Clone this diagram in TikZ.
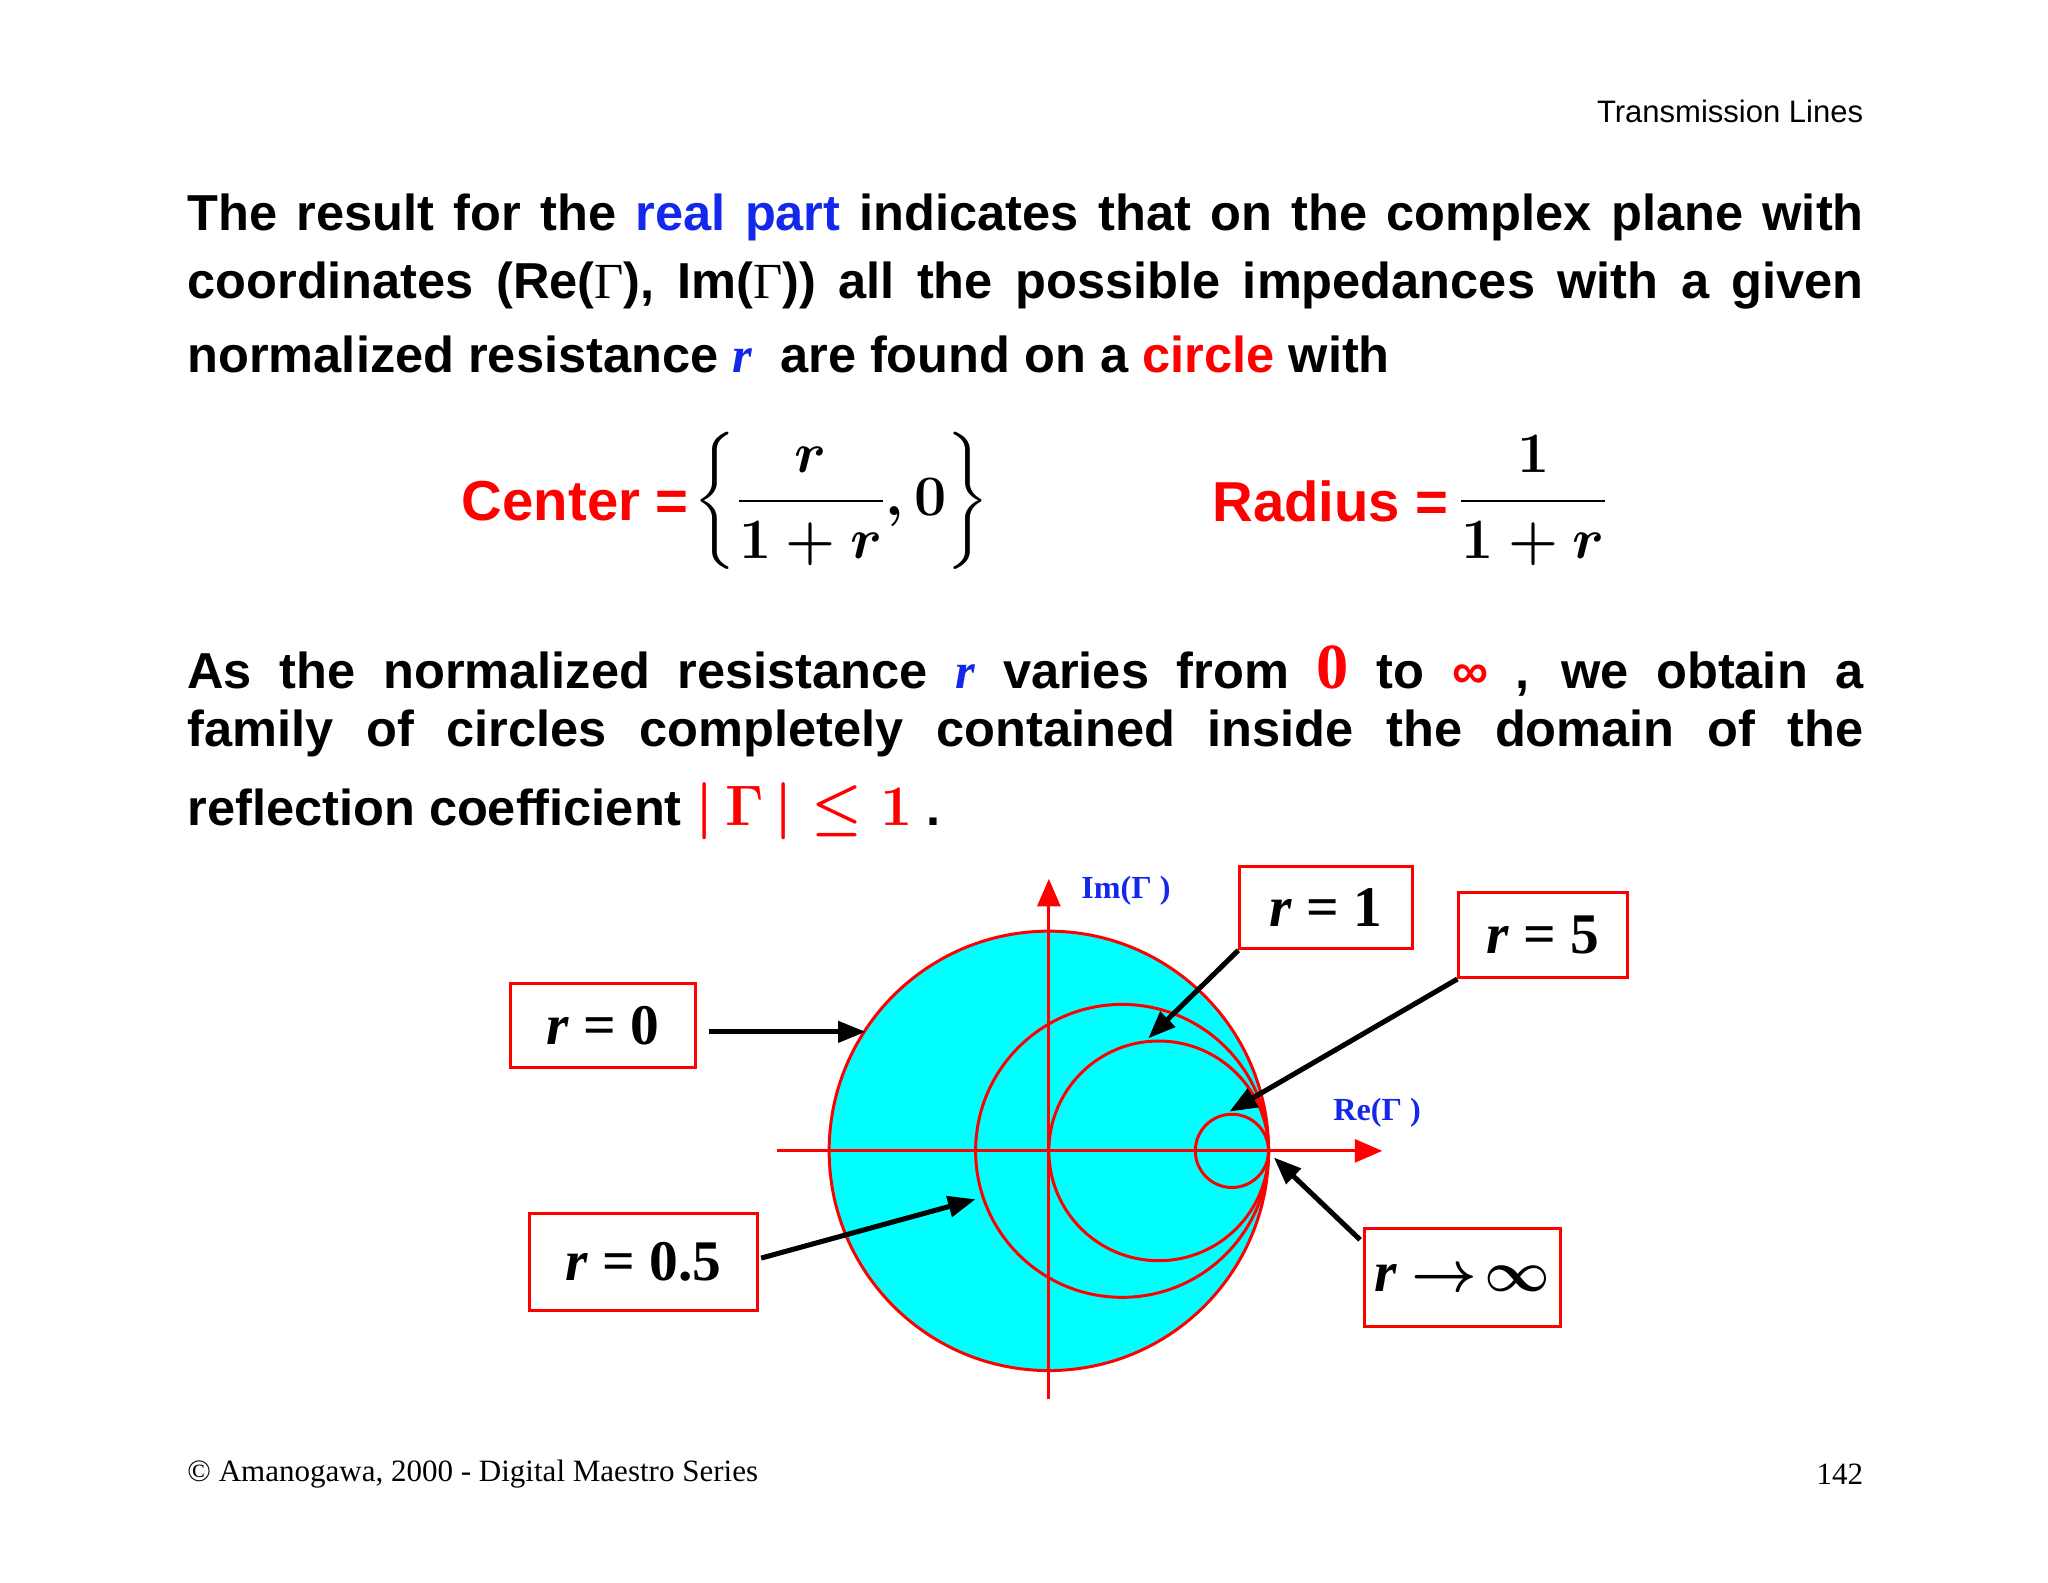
\documentclass[tikz,border=0pt]{standalone}
\usepackage{amsmath}
\usepackage{fontspec}
\setmainfont{Liberation Serif}
\setsansfont{Liberation Sans}
\usetikzlibrary{arrows.meta}
\definecolor{myred}{RGB}{255,0,0}
\definecolor{myblue}{RGB}{20,40,235}
\definecolor{mycyan}{RGB}{0,255,255}
\newcommand{\jline}[1]{\parbox{25.64cm}{\parfillskip=0pt\noindent #1}}
\newcommand{\ctrfrac}{\mbox{\boldmath$\displaystyle\left\lbrace\frac{r}{1+r},0\right\rbrace$}}
\newcommand{\radfrac}{\mbox{\boldmath$\displaystyle\frac{1}{1+r}$}}
\newcommand{\gammaineq}{\mbox{\boldmath$|\,\Gamma\,|\le 1$}}
\newcommand{\rinf}{\mbox{\boldmath$\to\!\infty$}}
\tikzset{
 body/.style={anchor=west,inner sep=0pt,font=\sffamily\bfseries\fontsize{22}{26}\selectfont},
 lbox/.style={draw=myred,line width=1.3pt,inner sep=0pt,font=\bfseries\fontsize{25}{30}\selectfont},
 parr/.style={-{Triangle[length=12pt,width=9pt]},line width=2.2pt,black},
 circ/.style={draw=myred,line width=1.3pt},
 axlab/.style={text=myblue,font=\bfseries\fontsize{14}{16}\selectfont,inner sep=0pt}
}
\begin{document}
\begin{tikzpicture}[x=0.02cm,y=-0.02cm]
\useasboundingbox (0,0) rectangle (1566,1210);
\node[anchor=east,inner sep=0pt,font=\sffamily\fontsize{13.5}{16}\selectfont] (hdr) at (1425,85) {Transmission Lines};
\node[body] (l1) at (143,166) {\jline{The result for the \textcolor{myblue}{real part} indicates that on the complex plane with}};
\node[body] (l2) at (143,218) {\jline{coordinates (Re(\textmd{\rmfamily Γ}), Im(\textmd{\rmfamily Γ})) all the possible impedances with a given}};
\node[body] (l3) at (143,271) {normalized resistance \textcolor{myblue}{\rmfamily\itshape r}\ \ are found on a \textcolor{myred}{circle} with};
\node[anchor=east,inner sep=0pt,text=myred,font=\sffamily\bfseries\fontsize{24.5}{28}\selectfont] (cl) at (527,383) {Center =};
\node[anchor=west,inner sep=0pt,font=\fontsize{24}{28}\selectfont] (cf) at (530,383) {\ctrfrac};
\node[anchor=east,inner sep=0pt,text=myred,font=\sffamily\bfseries\fontsize{24.5}{28}\selectfont] (rl) at (1108,383) {Radius =};
\node[anchor=west,inner sep=0pt,font=\fontsize{24}{28}\selectfont] (rf) at (1115,383) {\radfrac};
\node[body] (m1) at (143,513) {\jline{As the normalized resistance \textcolor{myblue}{\rmfamily\itshape r} varies from \textcolor{myred}{\rmfamily\fontsize{28}{28}\selectfont 0} to \textcolor{myred}{∞} , we obtain a}};
\node[body] (m2) at (143,561) {\jline{family of circles completely contained inside the domain of the}};
\node[body] (m3) at (143,620) {reflection coefficient \textcolor{myred}{\rmfamily\fontsize{28}{28}\selectfont\gammaineq} .};
% chart
\fill[mycyan] (802,880) circle (168);
\draw[circ] (802,880) circle (168);
\draw[circ] (858,880) circle (112);
\draw[circ] (886,880) circle (84);
\draw[circ] (942,880) circle (28);
\coordinate (xs) at (594,880); \coordinate (xe) at (1057,880);
\coordinate (ys) at (802,1070); \coordinate (ye) at (802,672);
\draw[myred,line width=1.3pt,-{Triangle[length=12pt,width=10pt]}] (xs) -- (xe);
\draw[myred,line width=1.3pt,-{Triangle[length=12pt,width=10pt]}] (ys) -- (ye);
\node[axlab] (im) at (861,681) {Im(Γ )};
\node[axlab] (re) at (1053,851) {Re(Γ )};
\node[lbox,minimum width=2.84cm,minimum height=1.28cm] (b0) at (461,784) {\itshape r\upshape\ = 0};
\node[lbox,minimum width=2.64cm,minimum height=1.26cm] (b1) at (1014,694) {\itshape r\upshape\ = 1};
\node[lbox,minimum width=2.58cm,minimum height=1.3cm] (b5) at (1180,715) {\itshape r\upshape\ = 5};
\node[lbox,minimum width=3.5cm,minimum height=1.48cm] (bh) at (492,965) {\itshape r\upshape\ = 0.5};
\node[lbox,minimum width=3.0cm,minimum height=1.5cm] (bi) at (1118,977) {\itshape r\upshape\ \rinf};
\coordinate (t0) at (662,789); \coordinate (t1) at (878,794);
\coordinate (t5) at (940,850); \coordinate (th) at (746,917);
\coordinate (ti) at (974,885);
\draw[parr] (542,789) -- (t0);
\draw[parr] (b1.south west) -- (t1);
\draw[parr] (b5.south west) -- (t5);
\draw[parr] (582,962) -- (th);
\draw[parr] (1040,948) -- (ti);
\node[anchor=west,inner sep=0pt,font=\fontsize{13.5}{16}\selectfont] (ft) at (143,1127) {© Amanogawa, 2000 - Digital Maestro Series};
\node[anchor=east,inner sep=0pt,font=\fontsize{13.5}{16}\selectfont] (pg) at (1425,1127) {142};
\end{tikzpicture}
\end{document}
